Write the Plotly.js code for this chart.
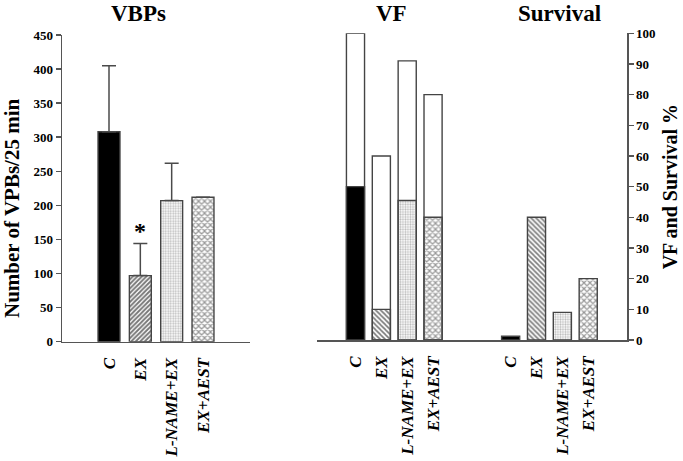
<!DOCTYPE html>
<html>
<head>
<meta charset="utf-8">
<script src="https://cdn.plot.ly/plotly-3.0.1.min.js"></script>
<style>html,body{margin:0;padding:0;background:#fff;}#chart{width:683px;height:461px;}</style>
</head>
<body>
<div id="chart"></div>
<script>
// ---- data ----
const categories = ['C', 'EX', 'L-NAME+EX', 'EX+AEST'];
const vpbMean   = [308, 97, 207, 212];      // Number of VPBs / 25 min
const vpbErr    = [97, 47, 55, null];       // upper error (SEM)
const vfTotal   = [100, 60, 91, 80];        // VF incidence %
const vfFilled  = [50, 10, 45.5, 40];       // patterned part of VF bars
const survival  = [1.2, 40, 9, 20];         // Survival %
const leftTicks  = [0, 50, 100, 150, 200, 250, 300, 350, 400, 450];
const rightTicks = [0, 10, 20, 30, 40, 50, 60, 70, 80, 90, 100];
const significant = [false, true, false, false];

// ---- styling ----
const serif = '"Liberation Serif", "Times New Roman", Times, serif';
const edge = {color: '#444444', width: 1.4};
const idx = categories.map((_, i) => i);
const gap = 2;                     // empty slots between VF and Survival groups
const survX = idx.map(i => i + categories.length + gap);

const fills = ['#000000', '#777777', '#bbbbbb', '#999999'];
const leftPattern = {
  shape: ['', '/', '.', 'x'],
  fgcolor: '#1a1a1a',
  bgcolor: '#ffffff',
  size: [6, 3.2, 2.5, 4.2],
  solidity: [1, 0.6, 0.45, 0.5]
};
const rightPattern = {
  shape: ['', '\\', '.', 'x'],
  fgcolor: '#2a2a2a',
  bgcolor: '#ffffff',
  size: [6, 3.5, 2.5, 4.2],
  solidity: [1, 0.45, 0.45, 0.5]
};

const traces = [
  {
    type: 'bar', x: idx, y: vpbMean, xaxis: 'x', yaxis: 'y', width: 0.7,
    marker: {color: fills, line: edge, pattern: leftPattern},
    error_y: {type: 'data', array: vpbErr, arrayminus: vpbErr.map(() => 0), symmetric: false,
              color: '#4a4a4a', thickness: 1.5, width: 7},
    hoverinfo: 'skip', showlegend: false
  },
  {
    type: 'bar', x: idx, y: vfTotal, xaxis: 'x2', yaxis: 'y2', width: 0.7,
    marker: {color: '#ffffff', line: edge}, hoverinfo: 'skip', showlegend: false
  },
  {
    type: 'bar', x: idx, y: vfFilled, xaxis: 'x2', yaxis: 'y2', width: 0.7,
    marker: {color: fills, line: edge, pattern: rightPattern}, hoverinfo: 'skip', showlegend: false
  },
  {
    type: 'bar', x: survX, y: survival, xaxis: 'x2', yaxis: 'y2', width: 0.7,
    marker: {color: fills, line: edge, pattern: rightPattern}, hoverinfo: 'skip', showlegend: false
  }
];

const tickFont = {family: serif, size: 13, color: '#000', weight: 'bold'};
const catFont = {family: serif, size: 17, color: '#000', weight: 'bold', style: 'italic'};
const titleFont = {family: serif, size: 20, color: '#000', weight: 'bold'};
const headFont = {family: serif, size: 23, color: '#000', weight: 'bold'};
const bold = v => '<b>' + v + '</b>';

const annotations = [
  {text: 'VBPs', xref: 'paper', yref: 'paper', x: 138.5 / 683, y: 1 - 13.5 / 461, showarrow: false, font: headFont, xanchor: 'center', yanchor: 'middle'},
  {text: 'VF', xref: 'paper', yref: 'paper', x: 391.7 / 683, y: 1 - 13.5 / 461, showarrow: false, font: headFont, xanchor: 'center', yanchor: 'middle'},
  {text: 'Survival', xref: 'paper', yref: 'paper', x: 559 / 683, y: 1 - 13.5 / 461, showarrow: false, font: headFont, xanchor: 'center', yanchor: 'middle'},
  {text: 'Number of VPBs/25 min', xref: 'paper', yref: 'paper', x: 12.5 / 683, y: 1 - 208.5 / 461, textangle: -90,
   showarrow: false, font: {family: serif, size: 21, color: '#000', weight: 'bold'}, xanchor: 'center', yanchor: 'middle'}
];
significant.forEach((s, i) => {
  if (s) annotations.push({
    text: '*', xref: 'x', yref: 'y', x: i, y: vpbMean[i] + (vpbErr[i] || 0),
    showarrow: false, yanchor: 'bottom', yshift: -2,
    font: {family: serif, size: 24, color: '#000', weight: 'bold'}
  });
});

const layout = {
  width: 683, height: 461,
  margin: {l: 0, r: 0, t: 0, b: 0},
  paper_bgcolor: '#fff', plot_bgcolor: 'rgba(0,0,0,0)',
  barmode: 'overlay',
  showlegend: false,
  xaxis: {
    domain: [62 / 683, 250 / 683], range: [-1.5, 4.5], anchor: 'y',
    tickmode: 'array', tickvals: idx, ticktext: categories.map(bold), tickangle: -90,
    tickfont: catFont, ticks: '', ticklabelstandoff: 8, showgrid: false, zeroline: false,
    showline: true, linecolor: '#555', linewidth: 1.5, fixedrange: true
  },
  yaxis: {
    domain: [1 - 341.7 / 461, 1 - 35 / 461], range: [0, 450], anchor: 'x',
    tickmode: 'array', tickvals: leftTicks, ticktext: leftTicks.map(bold),
    ticks: 'outside', ticklen: 5, tickwidth: 1.5, tickcolor: '#555',
    tickfont: tickFont, showgrid: false, zeroline: false,
    showline: true, linecolor: '#555', linewidth: 1.5,
    automargin: false, fixedrange: true
  },
  xaxis2: {
    domain: [316.7 / 683, 627 / 683], range: [-1.5, 10.5], anchor: 'y2',
    tickmode: 'array', tickvals: idx.concat(survX), ticktext: categories.concat(categories).map(bold), tickangle: -90,
    tickfont: catFont, ticks: '', ticklabelstandoff: 8, showgrid: false, zeroline: false,
    showline: true, linecolor: '#555', linewidth: 1.5, fixedrange: true
  },
  yaxis2: {
    domain: [1 - 340 / 461, 1 - 33.3 / 461], range: [0, 100], anchor: 'x2', side: 'right',
    tickmode: 'array', tickvals: rightTicks, ticktext: rightTicks.map(bold),
    ticks: 'outside', ticklen: 5, tickwidth: 1.5, tickcolor: '#555',
    tickfont: tickFont, showgrid: false, zeroline: false,
    showline: true, linecolor: '#555', linewidth: 1.5,
    title: {text: 'VF and Survival %', font: titleFont, standoff: 8},
    automargin: false, fixedrange: true
  },
  annotations: annotations
};

Plotly.newPlot('chart', traces, layout, {displayModeBar: false, staticPlot: true});
</script>
</body>
</html>
